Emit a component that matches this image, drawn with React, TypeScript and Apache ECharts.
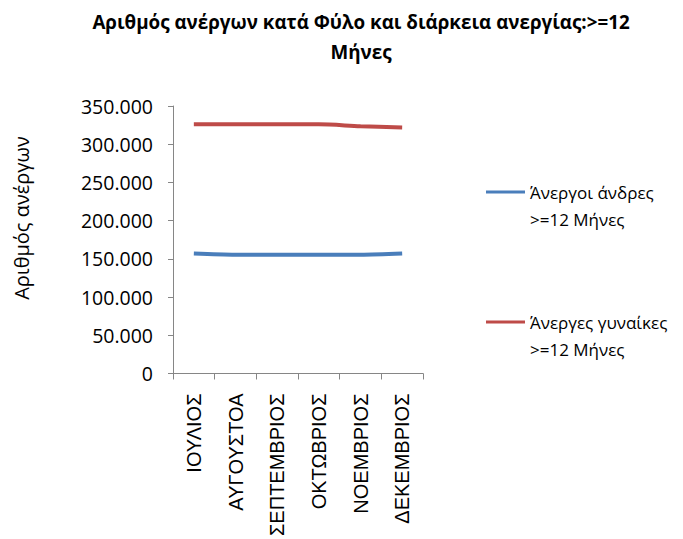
import React, { useEffect, useRef } from "react";
import * as echarts from "echarts";

const categories = ["ΙΟΥΛΙΟΣ", "ΑΥΓΟΥΣΤΟΑ", "ΣΕΠΤΕΜΒΡΙΟΣ", "ΟΚΤΩΒΡΙΟΣ", "ΝΟΕΜΒΡΙΟΣ", "ΔΕΚΕΜΒΡΙΟΣ"];
const menValues = [157000, 155500, 155500, 155500, 155500, 157000];
const womenValues = [326000, 326000, 326000, 326000, 323500, 322000];
const seriesNames = ["Άνεργοι άνδρες >=12 Μήνες", "Άνεργες γυναίκες >=12 Μήνες"];
const legendLabels = [" \nΆνεργοι άνδρες\n>=12 Μήνες", " \nΆνεργες γυναίκες\n>=12 Μήνες"];
const titleText = "Αριθμός ανέργων κατά Φύλο και διάρκεια ανεργίας:>=12\nΜήνες";
const yAxisTitle = "Αριθμός ανέργων";

const FONT = "'Open Sans', 'Noto Sans', sans-serif";

export default function App() {
  const ref = useRef<HTMLDivElement>(null);
  useEffect(() => {
    const chart = echarts.init(ref.current!, null, { renderer: "svg" });
    const mkLegend = (i: number, top: number) => ({
      data: [seriesNames[i]],
      left: 486,
      top,
      orient: "vertical",
      icon: "rect",
      itemWidth: 39,
      itemHeight: 3,
      itemGap: 0,
      padding: 0,
      formatter: () => legendLabels[i],
      textStyle: {
        fontFamily: FONT,
        fontSize: 17,
        color: "#000",
        lineHeight: 27,
      },
    });
    chart.setOption({
      animation: false,
      backgroundColor: "#fff",
      title: {
        text: titleText,
        left: 356,
        textAlign: "center",
        top: 2,
        textStyle: {
          fontFamily: FONT,
          fontSize: 18.8,
          fontWeight: "bold",
          color: "#000",
          lineHeight: 30,
        },
      },
      legend: [mkLegend(0, 151.5), mkLegend(1, 281.5)],
      grid: { left: 173, top: 106, width: 250, height: 270, containLabel: false },
      xAxis: {
        type: "category",
        data: categories,
        boundaryGap: true,
        axisLine: { lineStyle: { color: "#868686", width: 1 } },
        axisTick: { show: true, length: 6, lineStyle: { color: "#868686" } },
        axisLabel: {
          rotate: 90,
          interval: 0,
          margin: 20,
          fontFamily: "'Liberation Sans', Arial, sans-serif",
          fontSize: 20,
          color: "#000",
        },
      },
      yAxis: {
        type: "value",
        min: 0,
        max: 350000,
        interval: 50000,
        axisLine: { show: true, lineStyle: { color: "#868686", width: 1 } },
        axisTick: { show: true, length: 5, lineStyle: { color: "#868686" } },
        splitLine: { show: false },
        axisLabel: {
          margin: 20,
          fontFamily: FONT,
          fontSize: 19.5,
          color: "#000",
          formatter: (v: number) => v.toLocaleString("de-DE"),
        },
      },
      graphic: [
        {
          type: "text",
          x: 21,
          y: 218,
          rotation: Math.PI / 2,
          style: {
            text: yAxisTitle,
            fontFamily: FONT,
            fontSize: 20,
            fill: "#000",
            align: "center",
            verticalAlign: "middle",
          },
        },
      ],
      series: [
        {
          name: seriesNames[0],
          type: "line",
          data: menValues,
          smooth: 0.3,
          showSymbol: false,
          lineStyle: { color: "#4A7EBB", width: 4 },
          itemStyle: { color: "#4A7EBB" },
        },
        {
          name: seriesNames[1],
          type: "line",
          data: womenValues,
          smooth: 0.3,
          showSymbol: false,
          lineStyle: { color: "#BE4B48", width: 4 },
          itemStyle: { color: "#BE4B48" },
        },
      ],
    });
    return () => chart.dispose();
  }, []);
  return (
    <div
      ref={ref}
      style={{ position: "fixed", left: 0, top: 0, width: 683, height: 539 }}
    />
  );
}
